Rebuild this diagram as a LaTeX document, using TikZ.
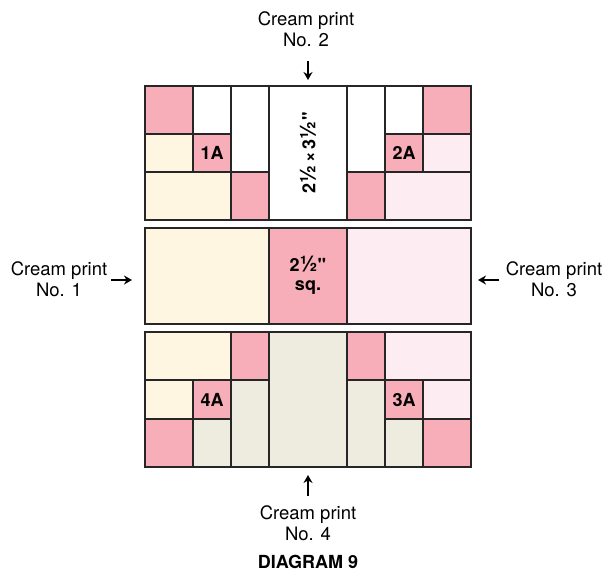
\documentclass[tikz,border=0pt]{standalone}
\usepackage{fontspec}
\setmainfont[Ligatures=TeXOff]{TeX Gyre Heros}
\usetikzlibrary{arrows.meta}
\definecolor{pk}{HTML}{F7AEB8}
\definecolor{cr}{HTML}{FFF6E2}
\definecolor{lp}{HTML}{FDECF2}
\definecolor{bg}{HTML}{EEEBDF}
\def\patch#1#2#3{\filldraw[fill=#1,draw=black!85,line width=1.1pt] (#2) rectangle (#3);}
\def\half{\scalebox{1.2}{½}}
\tikzset{
  lbl/.style={align=center,inner sep=0pt,font=\fontsize{18.5}{21.5}\selectfont},
  tag/.style={inner sep=0pt,font=\fontsize{18}{19}\selectfont\bfseries},
  arr/.style={-{Stealth[length=8pt,width=9pt]},line width=2.4pt}
}
\begin{document}
\begin{tikzpicture}[x=1pt,y=-1pt]
\useasboundingbox (0,0) rectangle (602,571);
% top row of blocks
\patch{pk}{145,86}{193,134}
\patch{white}{193,86}{231,134}
\patch{white}{231,86}{269,172}
\patch{white}{269,86}{347,220}
\patch{white}{347,86}{385,172}
\patch{white}{385,86}{423,134}
\patch{pk}{423,86}{471,134}
\patch{cr}{145,134}{193,172}
\patch{pk}{193,134}{231,172}
\patch{pk}{385,134}{423,172}
\patch{lp}{423,134}{471,172}
\patch{cr}{145,172}{231,220}
\patch{pk}{231,172}{269,220}
\patch{pk}{347,172}{385,220}
\patch{lp}{385,172}{471,220}
\node[tag,rotate=90] (rect) at (308,153) {2\half\,×\,3\half"};
\node[tag] (u1A) at (212,153) {1A};
\node[tag] (u2A) at (404,153) {2A};
% middle strip
\patch{cr}{145,228}{269,324}
\patch{pk}{269,228}{347,324}
\patch{lp}{347,228}{471,324}
\node[tag] (sq1) at (308,264) {2\half"};
\node[tag] (sq2) at (308,288) {sq.};
% bottom row of blocks
\patch{cr}{145,332}{231,380}
\patch{pk}{231,332}{269,380}
\patch{bg}{269,332}{347,467}
\patch{pk}{347,332}{385,380}
\patch{lp}{385,332}{471,380}
\patch{cr}{145,380}{193,419}
\patch{pk}{193,380}{231,419}
\patch{bg}{231,380}{269,467}
\patch{bg}{347,380}{385,467}
\patch{pk}{385,380}{423,419}
\patch{lp}{423,380}{471,419}
\patch{pk}{145,419}{193,467}
\patch{bg}{193,419}{231,467}
\patch{bg}{385,419}{423,467}
\patch{pk}{423,419}{471,467}
\node[tag] (u4A) at (212,400) {4A};
\node[tag] (u3A) at (404,400) {3A};
% labels and arrows
\node[lbl] (no1) at (59,279) {Cream print\\No. 1};
\node[lbl] (no2) at (306,29) {Cream print\\No. 2};
\node[lbl] (no3) at (554,279) {Cream print\\No. 3};
\node[lbl] (no4) at (308,523) {Cream print\\No. 4};
\node[tag,font=\fontsize{18}{19}\selectfont\bfseries] (title) at (308,562) {DIAGRAM 9};
\coordinate (in1) at (132,280);
\coordinate (in2) at (308,80);
\coordinate (in3) at (478,280);
\coordinate (in4) at (308,475);
\draw[arr] (in1) ++(-21,0) coordinate (out1) (out1) -- (in1);
\draw[arr] (in2) ++(0,-19) coordinate (out2) (out2) -- (in2);
\draw[arr] (in3) ++(21,0) coordinate (out3) (out3) -- (in3);
\draw[arr] (in4) ++(0,21) coordinate (out4) (out4) -- (in4);
\end{tikzpicture}
\end{document}
